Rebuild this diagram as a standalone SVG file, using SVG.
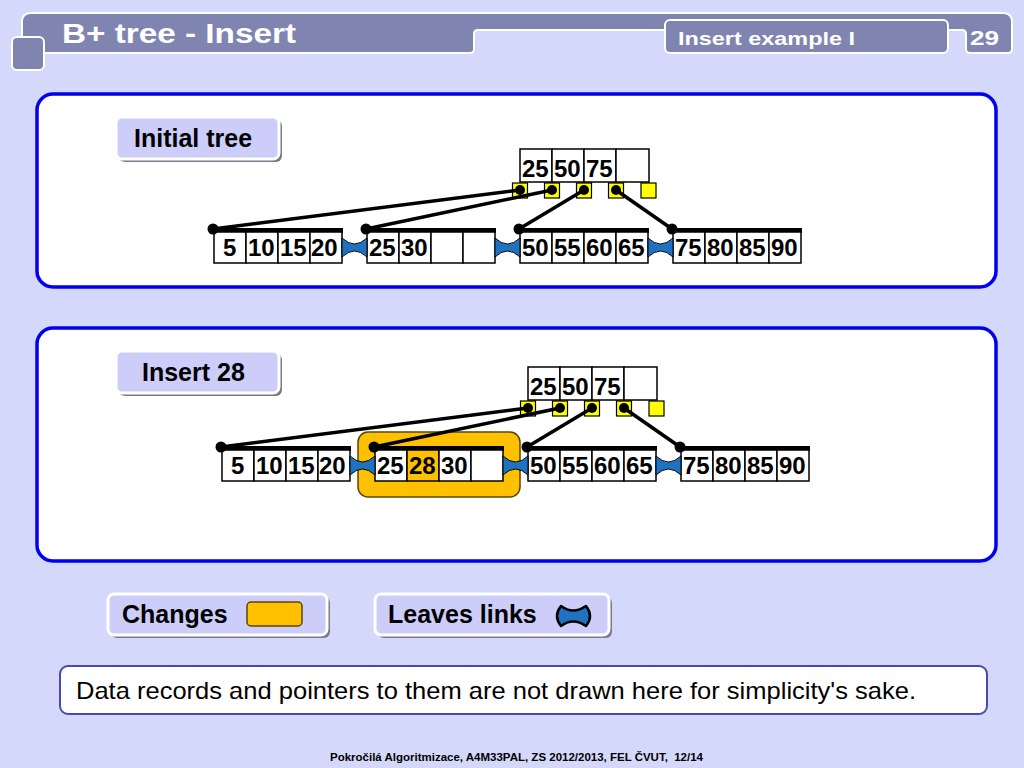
<svg xmlns="http://www.w3.org/2000/svg" width="1024" height="768" viewBox="0 0 1024 768">
<style>
text{font-family:"Liberation Sans",Arial,sans-serif;}
.bar{fill:#7f85b0;stroke:#ffffff;stroke-width:2;}
.hdr{fill:#ffffff;font-weight:bold;}
.panel{fill:#ffffff;stroke:#0000ee;stroke-width:3.5;}
.lblsh{fill:#7a7a8a;}
.lbl{fill:#cdcdfa;stroke:#ffffff;stroke-width:3;}
.lt{font-size:25px;font-weight:bold;fill:#000000;}
.cell{fill:#ffffff;stroke:#000000;stroke-width:1.5;}
.hl{fill:#ffc000;stroke:#000000;stroke-width:1.5;}
.num{font-size:24px;font-weight:bold;fill:#000000;}
.ptr{fill:#ffff00;stroke:#000000;stroke-width:1.2;}
.lbar{fill:#000000;}
.edge{stroke:#000000;stroke-width:3.5;fill:none;}
.dot{fill:#000000;}
.bow{fill:#1f72c0;stroke:#000000;stroke-width:1;}
.chg{fill:#ffc000;stroke:#5a4500;stroke-width:1.5;}
</style>
<rect x="0" y="0" width="1024" height="768" fill="#d4d8fb"/>

<g id="header">
<path class="bar" d="M22,53 V22 Q22,13 31,13 H1003 Q1012,13 1012,22 V49 Q1012,53 1008,53 H970 Q966,53 966,49 V34 Q966,30 962,30 H478 Q474,30 474,34 V49 Q474,53 470,53 H26 Q22,53 22,49 Z"/>
<rect class="bar" x="665" y="20" width="283" height="33" rx="5"/>
<rect class="bar" x="12" y="37" width="32" height="33" rx="5"/>
<text class="hdr" x="62" y="43" font-size="28" textLength="234" lengthAdjust="spacingAndGlyphs">B+ tree - Insert</text>
<text class="hdr" x="678" y="45" font-size="18" textLength="177" lengthAdjust="spacingAndGlyphs">Insert example I</text>
<text class="hdr" x="970" y="45" font-size="20" textLength="29" lengthAdjust="spacingAndGlyphs">29</text>
</g>

<rect id="panel1" class="panel" x="37" y="94" width="959" height="193" rx="16"/>
<rect id="panel2" class="panel" x="37" y="328" width="959" height="233" rx="16"/>

<g id="label-initial">
<rect class="lblsh" x="119" y="120" width="163" height="42" rx="6"/>
<rect class="lbl" x="116" y="117" width="163" height="42" rx="6"/>
<text class="lt" x="134" y="147">Initial tree</text>
</g>
<g id="label-insert">
<rect class="lblsh" x="119" y="354" width="163" height="42" rx="6"/>
<rect class="lbl" x="116" y="351" width="163" height="42" rx="6"/>
<text class="lt" x="142" y="381">Insert 28</text>
</g>

<!-- Tree 1 -->
<g id="t1-root">
<rect class="cell" x="520" y="149" width="32" height="33"/>
<rect class="cell" x="552" y="149" width="32" height="33"/>
<rect class="cell" x="584" y="149" width="32" height="33"/>
<rect class="cell" x="616" y="149" width="33" height="33"/>
<text class="num" x="522" y="177">25</text>
<text class="num" x="554" y="177">50</text>
<text class="num" x="586" y="177">75</text>
<rect class="ptr" x="512.5" y="183" width="15" height="15"/>
<rect class="ptr" x="544.5" y="183" width="15" height="15"/>
<rect class="ptr" x="576.5" y="183" width="15" height="15"/>
<rect class="ptr" x="608.5" y="183" width="15" height="15"/>
<rect class="ptr" x="641" y="183" width="15" height="15"/>
</g>
<g id="t1-leaf1">
<rect class="lbar" x="213" y="228" width="130" height="5"/>
<rect class="cell" x="214" y="232" width="32" height="31"/>
<rect class="cell" x="246" y="232" width="32" height="31"/>
<rect class="cell" x="278" y="232" width="32" height="31"/>
<rect class="cell" x="310" y="232" width="32" height="31"/>
<text class="num" x="223" y="256">5</text>
<text class="num" x="248" y="256">10</text>
<text class="num" x="280" y="256">15</text>
<text class="num" x="311" y="256">20</text>
</g>
<g id="t1-leaf2">
<rect class="lbar" x="366" y="228" width="130" height="5"/>
<rect class="cell" x="367" y="232" width="32" height="31"/>
<rect class="cell" x="399" y="232" width="32" height="31"/>
<rect class="cell" x="431" y="232" width="32" height="31"/>
<rect class="cell" x="463" y="232" width="32" height="31"/>
<text class="num" x="369" y="256">25</text>
<text class="num" x="401" y="256">30</text>
</g>
<g id="t1-leaf3">
<rect class="lbar" x="519" y="228" width="130" height="5"/>
<rect class="cell" x="520" y="232" width="32" height="31"/>
<rect class="cell" x="552" y="232" width="32" height="31"/>
<rect class="cell" x="584" y="232" width="32" height="31"/>
<rect class="cell" x="616" y="232" width="32" height="31"/>
<text class="num" x="522" y="256">50</text>
<text class="num" x="554" y="256">55</text>
<text class="num" x="586" y="256">60</text>
<text class="num" x="618" y="256">65</text>
</g>
<g id="t1-leaf4">
<rect class="lbar" x="672" y="228" width="130" height="5"/>
<rect class="cell" x="673" y="232" width="32" height="31"/>
<rect class="cell" x="705" y="232" width="32" height="31"/>
<rect class="cell" x="737" y="232" width="32" height="31"/>
<rect class="cell" x="769" y="232" width="32" height="31"/>
<text class="num" x="675" y="256">75</text>
<text class="num" x="707" y="256">80</text>
<text class="num" x="739" y="256">85</text>
<text class="num" x="771" y="256">90</text>
</g>
<g id="t1-connectors">
<line class="edge" x1="520" y1="190" x2="213" y2="229"/>
<line class="edge" x1="552" y1="190" x2="366" y2="229"/>
<line class="edge" x1="584" y1="190" x2="519" y2="229"/>
<line class="edge" x1="616" y1="190" x2="672" y2="229"/>
<circle class="dot" cx="520" cy="190" r="5"/>
<circle class="dot" cx="552" cy="190" r="5"/>
<circle class="dot" cx="584" cy="190" r="5"/>
<circle class="dot" cx="616" cy="190" r="5"/>
<circle class="dot" cx="213" cy="229" r="5.5"/>
<circle class="dot" cx="366" cy="229" r="5.5"/>
<circle class="dot" cx="519" cy="229" r="5.5"/>
<circle class="dot" cx="672" cy="229" r="5.5"/>
<path class="bow" d="M342,238 Q354.5,250 367,238 V257 Q354.5,245 342,257 Z"/>
<path class="bow" d="M495,238 Q507.5,250 520,238 V257 Q507.5,245 495,257 Z"/>
<path class="bow" d="M648,238 Q660.5,250 673,238 V257 Q660.5,245 648,257 Z"/>
</g>

<!-- Tree 2 -->
<rect id="t2-change" class="chg" x="358" y="432" width="162" height="65" rx="10"/>
<g id="t2-root" transform="translate(8,218)">
<rect class="cell" x="520" y="149" width="32" height="33"/>
<rect class="cell" x="552" y="149" width="32" height="33"/>
<rect class="cell" x="584" y="149" width="32" height="33"/>
<rect class="cell" x="616" y="149" width="33" height="33"/>
<text class="num" x="522" y="177">25</text>
<text class="num" x="554" y="177">50</text>
<text class="num" x="586" y="177">75</text>
<rect class="ptr" x="512.5" y="183" width="15" height="15"/>
<rect class="ptr" x="544.5" y="183" width="15" height="15"/>
<rect class="ptr" x="576.5" y="183" width="15" height="15"/>
<rect class="ptr" x="608.5" y="183" width="15" height="15"/>
<rect class="ptr" x="641" y="183" width="15" height="15"/>
</g>
<g id="t2-leaf1" transform="translate(8,218)">
<rect class="lbar" x="213" y="228" width="130" height="5"/>
<rect class="cell" x="214" y="232" width="32" height="31"/>
<rect class="cell" x="246" y="232" width="32" height="31"/>
<rect class="cell" x="278" y="232" width="32" height="31"/>
<rect class="cell" x="310" y="232" width="32" height="31"/>
<text class="num" x="223" y="256">5</text>
<text class="num" x="248" y="256">10</text>
<text class="num" x="280" y="256">15</text>
<text class="num" x="311" y="256">20</text>
</g>
<g id="t2-leaf2" transform="translate(8,218)">
<rect class="lbar" x="366" y="228" width="130" height="5"/>
<rect class="cell" x="367" y="232" width="32" height="31"/>
<rect class="hl" x="399" y="232" width="32" height="31"/>
<rect class="cell" x="431" y="232" width="32" height="31"/>
<rect class="cell" x="463" y="232" width="32" height="31"/>
<text class="num" x="369" y="256">25</text>
<text class="num" x="401" y="256">28</text>
<text class="num" x="433" y="256">30</text>
</g>
<g id="t2-leaf3" transform="translate(8,218)">
<rect class="lbar" x="519" y="228" width="130" height="5"/>
<rect class="cell" x="520" y="232" width="32" height="31"/>
<rect class="cell" x="552" y="232" width="32" height="31"/>
<rect class="cell" x="584" y="232" width="32" height="31"/>
<rect class="cell" x="616" y="232" width="32" height="31"/>
<text class="num" x="522" y="256">50</text>
<text class="num" x="554" y="256">55</text>
<text class="num" x="586" y="256">60</text>
<text class="num" x="618" y="256">65</text>
</g>
<g id="t2-leaf4" transform="translate(8,218)">
<rect class="lbar" x="672" y="228" width="130" height="5"/>
<rect class="cell" x="673" y="232" width="32" height="31"/>
<rect class="cell" x="705" y="232" width="32" height="31"/>
<rect class="cell" x="737" y="232" width="32" height="31"/>
<rect class="cell" x="769" y="232" width="32" height="31"/>
<text class="num" x="675" y="256">75</text>
<text class="num" x="707" y="256">80</text>
<text class="num" x="739" y="256">85</text>
<text class="num" x="771" y="256">90</text>
</g>
<g id="t2-connectors" transform="translate(8,218)">
<line class="edge" x1="520" y1="190" x2="213" y2="229"/>
<line class="edge" x1="552" y1="190" x2="366" y2="229"/>
<line class="edge" x1="584" y1="190" x2="519" y2="229"/>
<line class="edge" x1="616" y1="190" x2="672" y2="229"/>
<circle class="dot" cx="520" cy="190" r="5"/>
<circle class="dot" cx="552" cy="190" r="5"/>
<circle class="dot" cx="584" cy="190" r="5"/>
<circle class="dot" cx="616" cy="190" r="5"/>
<circle class="dot" cx="213" cy="229" r="5.5"/>
<circle class="dot" cx="366" cy="229" r="5.5"/>
<circle class="dot" cx="519" cy="229" r="5.5"/>
<circle class="dot" cx="672" cy="229" r="5.5"/>
<path class="bow" d="M342,238 Q354.5,250 367,238 V257 Q354.5,245 342,257 Z"/>
<path class="bow" d="M495,238 Q507.5,250 520,238 V257 Q507.5,245 495,257 Z"/>
<path class="bow" d="M648,238 Q660.5,250 673,238 V257 Q660.5,245 648,257 Z"/>
</g>

<!-- Legend -->
<g id="legend-changes">
<rect class="lblsh" x="111" y="597" width="219" height="41" rx="6"/>
<rect class="lbl" x="108" y="594" width="219" height="41" rx="6"/>
<text class="lt" x="122" y="623">Changes</text>
<rect class="chg" x="247" y="602" width="55" height="24" rx="4"/>
</g>
<g id="legend-links">
<rect class="lblsh" x="378" y="597" width="234" height="41" rx="6"/>
<rect class="lbl" x="375" y="594" width="234" height="41" rx="6"/>
<text class="lt" x="388" y="623">Leaves links</text>
<path fill="#1f72c0" stroke="#000000" stroke-width="2.5" stroke-linejoin="round" d="M561,606 Q573,615 586,606 Q594,616 586,626 Q573,617 561,626 Q553,616 561,606 Z"/>
</g>

<g id="note">
<rect x="60" y="666" width="927" height="48" rx="8" fill="#ffffff" stroke="#4848b8" stroke-width="2"/>
<text x="76" y="699" font-size="24" fill="#000000" textLength="840" lengthAdjust="spacingAndGlyphs">Data records and pointers to them are not drawn here for simplicity's sake.</text>
</g>

<text x="330" y="761" font-size="11" font-weight="bold" fill="#000000" textLength="373" lengthAdjust="spacingAndGlyphs" xml:space="preserve">Pokročilá Algoritmizace, A4M33PAL, ZS 2012/2013, FEL ČVUT,  12/14</text>
</svg>
